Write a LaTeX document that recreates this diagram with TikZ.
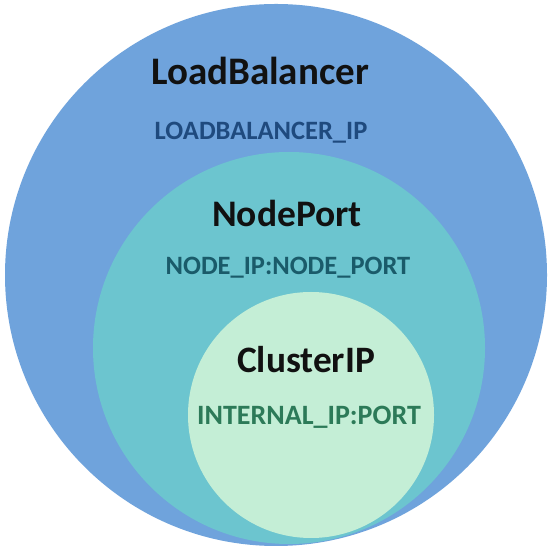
\documentclass[tikz,border=0pt]{standalone}
\usepackage{fontspec}
\setmainfont{Carlito}
\definecolor{lbfill}{HTML}{6FA3DC}
\definecolor{npfill}{HTML}{6CC5CF}
\definecolor{cifill}{HTML}{C4EED6}
\definecolor{lbtext}{HTML}{1F4A7E}
\definecolor{nptext}{HTML}{1A5B6A}
\definecolor{citext}{HTML}{2C7A58}
\definecolor{titletext}{HTML}{111111}
\begin{document}
\begin{tikzpicture}[x=1pt,y=1pt,
  ring/.style={circle, inner sep=0pt, draw=none},
  title/.style={anchor=base, font=\bfseries\fontsize{#1}{#1}\selectfont, text=titletext, inner sep=0pt},
  addr/.style={anchor=base, font=\bfseries\fontsize{#1}{#1}\selectfont, inner sep=0pt}]
\useasboundingbox (0,0) rectangle (549,553);
\fill[white] (0,0) rectangle (549,553);
\node[ring, fill=lbfill, minimum size=542pt] (lb) at (276,278) {};
\node[ring, fill=npfill, minimum size=392pt] (np) at (289,205) {};
\node[ring, fill=cifill, minimum size=246pt] (ci) at (311,138) {};
\node[title=39] (lbt) at (260,468) {LoadBalancer};
\node[addr=26.5, text=lbtext] (lba) at (261,413) {LOADBALANCER\_IP};
\node[title=37.5] (npt) at (287,326) {NodePort};
\node[addr=26.5, text=nptext] (npa) at (288,278) {NODE\_IP:NODE\_PORT};
\node[title=37.3] (cit) at (306,180) {ClusterIP};
\node[addr=28, text=citext] (cia) at (309,128) {INTERNAL\_IP:PORT};
\end{tikzpicture}
\end{document}
